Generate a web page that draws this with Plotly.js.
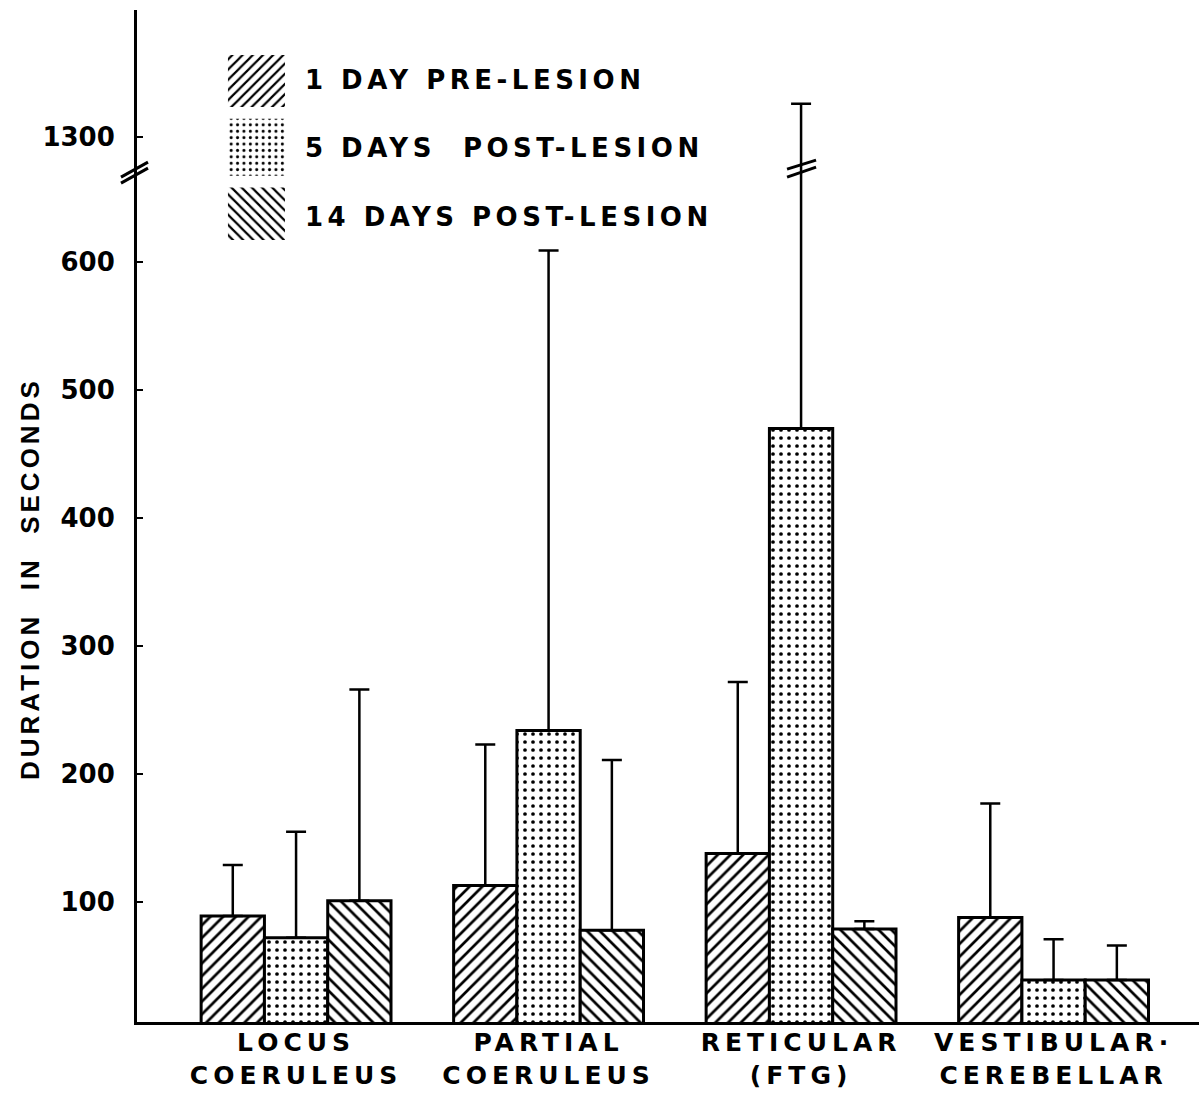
<!DOCTYPE html>
<html><head><meta charset="utf-8">
<script src="https://cdn.plot.ly/plotly-3.0.1.min.js"></script>
<style>
html,body{margin:0;padding:0;background:#fff;}
#chart{width:1199px;height:1094px;}
.xtick text{letter-spacing:5px;}
.legendtext{letter-spacing:4.5px;}
.annotation-text{letter-spacing:4px;}
</style></head><body><div id="chart"></div>
<script>
// ---- data ----
const categories = ['LOCUS<br>COERULEUS', 'PARTIAL<br>COERULEUS', 'RETICULAR<br>(FTG)', 'VESTIBULAR·<br>CEREBELLAR'];
const seriesNames = ['1 DAY PRE-LESION', '5 DAYS  POST-LESION', '14 DAYS POST-LESION'];
const preLesion  = [89, 113, 138, 88];
const post5      = [72, 234, 470, 39];
const post14     = [101, 78, 79, 39];
const preLesionSD = [40, 110, 134, 89];
const post5SD     = [83, 375, 856, 32];
const post14SD    = [165, 133, 6, 27];
const yTickValues = [100, 200, 300, 400, 500, 600, 1300];
const yTickLabels = ['100', '200', '300', '400', '500', '600', '1300'];
const yTitle = 'DURATION  IN  SECONDS';

// ---- broken axis mapping (values above the break are shifted down) ----
const BREAK_LOW = 650;      // top of the continuous part
const BREAK_SHIFT = 602.3;  // amount removed by the break
function axisMap(v) { return v > BREAK_LOW ? v - BREAK_SHIFT : v; }

const FONT = 'DejaVu Sans';
const patterns = [
  {shape: '/', size: 9, solidity: 0.3},
  {shape: '.', size: 8, solidity: 0.17},
  {shape: '\\', size: 9, solidity: 0.3}
];
const means = [preLesion, post5, post14];
const sds = [preLesionSD, post5SD, post14SD];

const traces = means.map((m, i) => ({
  type: 'bar',
  name: seriesNames[i],
  legendgroup: 'g' + i,
  x: categories,
  y: m,
  marker: {
    color: 'white',
    line: {color: 'black', width: 3},
    pattern: Object.assign({fgcolor: 'black', bgcolor: 'white', fillmode: 'replace'}, patterns[i])
  },
  error_y: {
    type: 'data', symmetric: false,
    array: m.map((v, j) => axisMap(v + sds[i][j]) - v),
    arrayminus: m.map(() => 0),
    color: 'black', thickness: 2.5, width: 10
  },
  hoverinfo: 'skip'
}));

function breakLines(xref, xanchor, xs, ys) {
  return ys.map(pair => ({
    type: 'line', xref: xref, yref: 'y', xsizemode: 'pixel', xanchor: xanchor,
    x0: xs[0], x1: xs[1], y0: pair[0], y1: pair[1],
    line: {color: 'black', width: 3}
  }));
}
const shapes = [].concat(
  breakLines('paper', 0, [-16, 11], [[666.4, 678.1], [661.7, 673.4]]),
  breakLines('x', 2, [-14, 15], [[672.7, 679.7], [666.4, 674.2]])
);

const layout = {
  width: 1199, height: 1094,
  margin: {l: 137, r: 0, t: 10, b: 72},
  paper_bgcolor: 'white', plot_bgcolor: 'white',
  barmode: 'group', bargap: 0.248, bargroupgap: 0,
  showlegend: true,
  legend: {
    x: 0.0734, y: 0.9555, xanchor: 'left', yanchor: 'top',
    font: {family: FONT, size: 26, color: 'black', weight: 'bold'},
    itemwidth: 80, tracegroupgap: 32, traceorder: 'grouped',
    bgcolor: 'rgba(0,0,0,0)', borderwidth: 0
  },
  xaxis: {
    type: 'category', range: [-0.63, 3.576],
    showline: true, linecolor: 'black', linewidth: 3,
    ticks: '', showgrid: false, zeroline: false,
    tickfont: {family: FONT, size: 25, color: 'black', weight: 'bold'},
    ticklabelstandoff: -4,
    fixedrange: true
  },
  yaxis: {
    range: [6.25, 797],
    showline: true, linecolor: 'black', linewidth: 3,
    ticks: 'inside', ticklen: 6, tickwidth: 2, tickcolor: 'black',
    tickvals: yTickValues.map(axisMap), ticktext: yTickLabels,
    tickfont: {family: FONT, size: 26, color: 'black', weight: 'bold'},
    ticklabelstandoff: 14,
    showgrid: false, zeroline: false, fixedrange: true
  },
  shapes: shapes,
  annotations: [{
    text: yTitle, xref: 'paper', yref: 'paper',
    x: -0.1008, y: 0.4387, xanchor: 'center', yanchor: 'middle',
    textangle: -90, showarrow: false,
    font: {family: 'Liberation Sans', size: 26, color: 'black', weight: 'bold'}
  }]
};

Plotly.newPlot('chart', traces, layout, {displayModeBar: false, staticPlot: true}).then(gd => {
  gd.querySelectorAll('.legend .legendpoints path').forEach(p => {
    p.setAttribute('d', 'M25,28.5H-32V-28.5H25Z');
    p.style.strokeWidth = '0';
  });
});
</script></body></html>
